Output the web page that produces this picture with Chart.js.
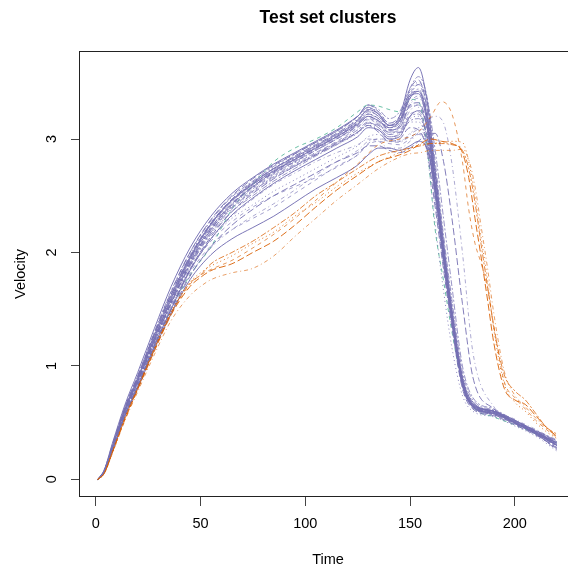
<!DOCTYPE html>
<html lang="en">
<head>
<meta charset="UTF-8">
<title>Test set clusters</title>
<script src="https://cdn.jsdelivr.net/npm/chart.js"></script>
<style>
    html, body {
        margin: 0;
        padding: 0;
        background: #fff;
        overflow: hidden;
    }
    #chart {
        display: block;
    }
</style>
</head>
<body>
<canvas id="chart" width="600" height="570"></canvas>
<script>
// time grids (purple / green curves, orange curves)
const timeMain = [1, 4, 8, 14, 20, 28, 36, 45, 55, 65, 75, 85, 95, 105, 115, 125, 130, 135, 140, 145, 150, 154, 158, 162, 166, 170, 175, 180, 190, 200, 210, 220];
const timeLate = [1, 4, 8, 14, 20, 28, 36, 45, 50, 55, 65, 75, 85, 95, 105, 115, 125, 135, 145, 150, 155, 160, 165, 170, 175, 178, 181, 184, 187, 190, 195, 200, 205, 210, 215, 220];

const xTicks = [0, 50, 100, 150, 200];
const yTicks = [0, 1, 2, 3];

// cluster 1 (purple)
const p01 = [0, 0.07, 0.29, 0.62, 0.88, 1.25, 1.6, 1.95, 2.25, 2.46, 2.61, 2.74, 2.84, 2.94, 3.04, 3.16, 3.26, 3.22, 3.12, 3.2, 3.52, 3.63, 3.35, 2.72, 2.08, 1.5, 0.9, 0.68, 0.6, 0.5, 0.41, 0.3];
const p02 = [0, 0.06, 0.27, 0.6, 0.86, 1.23, 1.57, 1.92, 2.2, 2.42, 2.57, 2.7, 2.8, 2.9, 3.0, 3.12, 3.2, 3.16, 3.08, 3.12, 3.4, 3.48, 3.25, 2.66, 2.0, 1.45, 0.86, 0.66, 0.59, 0.51, 0.43, 0.34];
const p03 = [0, 0.07, 0.3, 0.63, 0.9, 1.28, 1.63, 1.98, 2.26, 2.47, 2.62, 2.75, 2.86, 2.96, 3.06, 3.18, 3.27, 3.24, 3.14, 3.18, 3.42, 3.5, 3.3, 2.75, 2.12, 1.55, 0.92, 0.68, 0.6, 0.49, 0.4, 0.28];
const p04 = [0, 0.06, 0.26, 0.58, 0.84, 1.2, 1.54, 1.88, 2.17, 2.38, 2.53, 2.66, 2.76, 2.86, 2.96, 3.06, 3.14, 3.1, 3.0, 3.05, 3.3, 3.36, 3.18, 2.6, 1.98, 1.42, 0.85, 0.65, 0.58, 0.5, 0.42, 0.33];
const p05 = [0, 0.07, 0.28, 0.61, 0.87, 1.24, 1.58, 1.93, 2.22, 2.43, 2.58, 2.71, 2.82, 2.92, 3.02, 3.14, 3.22, 3.18, 3.08, 3.1, 3.3, 3.32, 3.12, 2.55, 1.95, 1.4, 0.84, 0.64, 0.57, 0.49, 0.4, 0.26];
const p06 = [0, 0.08, 0.31, 0.64, 0.91, 1.3, 1.66, 2.0, 2.28, 2.49, 2.63, 2.76, 2.87, 2.97, 3.07, 3.2, 3.3, 3.26, 3.18, 3.24, 3.45, 3.55, 3.38, 2.8, 2.15, 1.58, 0.95, 0.7, 0.61, 0.52, 0.42, 0.3];
const p07 = [0, 0.06, 0.26, 0.57, 0.82, 1.18, 1.5, 1.84, 2.12, 2.33, 2.48, 2.61, 2.72, 2.82, 2.92, 3.02, 3.1, 3.08, 3.0, 3.02, 3.2, 3.25, 3.12, 2.58, 1.96, 1.42, 0.84, 0.64, 0.58, 0.5, 0.41, 0.32];
const p08 = [0, 0.07, 0.28, 0.6, 0.86, 1.22, 1.56, 1.9, 2.18, 2.4, 2.55, 2.68, 2.78, 2.88, 2.98, 3.1, 3.18, 3.12, 3.04, 3.06, 3.22, 3.24, 3.05, 2.5, 1.9, 1.36, 0.82, 0.64, 0.58, 0.5, 0.4, 0.3];
const p09 = [0, 0.06, 0.27, 0.59, 0.85, 1.21, 1.55, 1.9, 2.2, 2.41, 2.57, 2.69, 2.79, 2.88, 2.97, 3.06, 3.12, 3.1, 3.02, 3.04, 3.15, 3.15, 2.98, 2.45, 1.88, 1.36, 0.82, 0.63, 0.57, 0.49, 0.41, 0.31];
const p10 = [0, 0.07, 0.29, 0.62, 0.88, 1.26, 1.6, 1.94, 2.23, 2.44, 2.59, 2.72, 2.83, 2.93, 3.03, 3.14, 3.22, 3.17, 3.08, 3.12, 3.32, 3.38, 3.2, 2.64, 2.02, 1.46, 0.86, 0.66, 0.6, 0.52, 0.43, 0.35];
const p11 = [0, 0.06, 0.25, 0.56, 0.81, 1.17, 1.5, 1.85, 2.14, 2.36, 2.52, 2.65, 2.76, 2.86, 2.96, 3.06, 3.12, 3.06, 2.98, 3.0, 3.1, 3.08, 2.9, 2.4, 1.85, 1.34, 0.8, 0.62, 0.56, 0.48, 0.39, 0.28];
const p12 = [0, 0.07, 0.28, 0.6, 0.86, 1.22, 1.56, 1.9, 2.2, 2.42, 2.58, 2.7, 2.8, 2.9, 3.0, 3.12, 3.2, 3.14, 3.04, 3.12, 3.38, 3.48, 3.36, 2.9, 2.3, 1.7, 1.0, 0.72, 0.62, 0.52, 0.43, 0.34];
const p13 = [0, 0.06, 0.25, 0.56, 0.8, 1.15, 1.46, 1.76, 1.98, 2.12, 2.22, 2.32, 2.44, 2.56, 2.66, 2.77, 2.86, 2.92, 2.92, 2.9, 2.94, 2.98, 2.92, 2.55, 2.0, 1.46, 0.88, 0.66, 0.6, 0.52, 0.42, 0.32];
const p14 = [0, 0.06, 0.26, 0.57, 0.82, 1.18, 1.5, 1.82, 2.06, 2.2, 2.3, 2.4, 2.52, 2.64, 2.76, 2.86, 2.96, 3.0, 3.0, 2.98, 3.02, 3.05, 2.96, 2.55, 1.98, 1.44, 0.86, 0.65, 0.58, 0.5, 0.41, 0.3];
const p15 = [0, 0.07, 0.27, 0.59, 0.85, 1.2, 1.52, 1.86, 2.12, 2.3, 2.42, 2.54, 2.64, 2.74, 2.84, 2.94, 3.02, 3.04, 3.0, 2.98, 3.05, 3.1, 3.0, 2.56, 1.98, 1.44, 0.86, 0.65, 0.59, 0.5, 0.41, 0.31];
const p16 = [0, 0.06, 0.26, 0.58, 0.83, 1.19, 1.52, 1.85, 2.12, 2.32, 2.47, 2.6, 2.7, 2.8, 2.88, 2.95, 3.0, 2.98, 2.92, 2.92, 2.98, 3.06, 3.16, 3.2, 3.14, 2.78, 2.0, 1.12, 0.64, 0.53, 0.44, 0.34];
const p17 = [0, 0.06, 0.25, 0.56, 0.8, 1.15, 1.47, 1.79, 2.05, 2.24, 2.38, 2.5, 2.6, 2.7, 2.8, 2.88, 2.94, 2.94, 2.9, 2.88, 2.92, 2.98, 3.04, 3.05, 2.8, 2.3, 1.55, 0.9, 0.62, 0.52, 0.43, 0.33];
const p18 = [0, 0.07, 0.29, 0.61, 0.87, 1.24, 1.59, 1.94, 2.24, 2.45, 2.6, 2.73, 2.83, 2.93, 3.03, 3.15, 3.24, 3.2, 3.1, 3.14, 3.36, 3.44, 3.22, 2.68, 2.05, 1.48, 0.88, 0.67, 0.6, 0.51, 0.42, 0.31];
const p19 = [0, 0.08, 0.32, 0.66, 0.94, 1.33, 1.7, 2.04, 2.32, 2.52, 2.66, 2.78, 2.88, 2.98, 3.08, 3.2, 3.28, 3.22, 3.12, 3.16, 3.36, 3.42, 3.2, 2.6, 1.96, 1.4, 0.84, 0.64, 0.58, 0.5, 0.4, 0.3];
const p20 = [0, 0.06, 0.26, 0.58, 0.83, 1.19, 1.52, 1.85, 2.1, 2.27, 2.4, 2.5, 2.58, 2.66, 2.75, 2.86, 2.95, 2.98, 2.96, 2.95, 3.0, 3.04, 2.94, 2.5, 1.94, 1.42, 0.85, 0.65, 0.59, 0.5, 0.41, 0.31];
const p21 = [0, 0.07, 0.29, 0.61, 0.87, 1.24, 1.58, 1.93, 2.22, 2.43, 2.58, 2.71, 2.81, 2.91, 3.01, 3.13, 3.22, 3.18, 3.1, 3.14, 3.3, 3.28, 2.9, 2.25, 1.66, 1.16, 0.74, 0.6, 0.55, 0.47, 0.38, 0.25];
const p22 = [0, 0.07, 0.28, 0.6, 0.86, 1.23, 1.57, 1.91, 2.2, 2.41, 2.56, 2.69, 2.8, 2.9, 3.0, 3.1, 3.17, 3.13, 3.06, 3.08, 3.25, 3.3, 3.1, 2.55, 1.95, 1.4, 0.84, 0.64, 0.58, 0.49, 0.4, 0.29];
const p23 = [0, 0.07, 0.3, 0.64, 0.91, 1.29, 1.65, 2.0, 2.29, 2.5, 2.65, 2.77, 2.87, 2.97, 3.07, 3.2, 3.3, 3.24, 3.14, 3.2, 3.4, 3.42, 3.22, 2.65, 2.02, 1.45, 0.87, 0.66, 0.6, 0.51, 0.42, 0.32];
const p24 = [0, 0.06, 0.27, 0.59, 0.85, 1.21, 1.55, 1.89, 2.18, 2.39, 2.54, 2.67, 2.77, 2.87, 2.97, 3.08, 3.15, 3.1, 3.02, 3.05, 3.2, 3.22, 3.02, 2.48, 1.9, 1.38, 0.83, 0.63, 0.57, 0.49, 0.4, 0.3];
const p25 = [0, 0.07, 0.29, 0.62, 0.89, 1.27, 1.62, 1.96, 2.25, 2.46, 2.6, 2.72, 2.82, 2.92, 3.02, 3.13, 3.2, 3.16, 3.1, 3.16, 3.38, 3.4, 3.16, 2.6, 1.98, 1.42, 0.85, 0.65, 0.59, 0.5, 0.41, 0.3];
const p26 = [0, 0.06, 0.27, 0.59, 0.85, 1.22, 1.56, 1.91, 2.21, 2.43, 2.58, 2.71, 2.81, 2.91, 3.01, 3.11, 3.18, 3.15, 3.07, 3.1, 3.28, 3.3, 3.1, 2.58, 1.97, 1.43, 0.86, 0.66, 0.6, 0.51, 0.42, 0.33];
const p27 = [0, 0.07, 0.28, 0.61, 0.87, 1.24, 1.58, 1.92, 2.2, 2.4, 2.54, 2.66, 2.76, 2.86, 2.95, 3.05, 3.12, 3.08, 3.02, 3.04, 3.18, 3.2, 3.04, 2.52, 1.92, 1.38, 0.83, 0.64, 0.58, 0.5, 0.41, 0.29];
const p28 = [0, 0.06, 0.26, 0.57, 0.82, 1.17, 1.49, 1.8, 2.04, 2.2, 2.32, 2.43, 2.55, 2.68, 2.8, 2.9, 2.98, 3.0, 2.98, 2.97, 3.04, 3.08, 2.98, 2.54, 1.96, 1.43, 0.86, 0.65, 0.58, 0.5, 0.41, 0.31];
const p29 = [0, 0.08, 0.3, 0.63, 0.9, 1.28, 1.63, 1.97, 2.26, 2.47, 2.62, 2.74, 2.85, 2.95, 3.05, 3.17, 3.25, 3.2, 3.12, 3.18, 3.44, 3.52, 3.28, 2.7, 2.06, 1.48, 0.89, 0.67, 0.6, 0.5, 0.4, 0.27];
const p30 = [0, 0.06, 0.27, 0.6, 0.86, 1.22, 1.55, 1.88, 2.16, 2.36, 2.5, 2.63, 2.74, 2.85, 2.95, 3.06, 3.14, 3.12, 3.06, 3.06, 3.16, 3.18, 3.04, 2.56, 1.96, 1.42, 0.85, 0.65, 0.59, 0.51, 0.42, 0.32];

// cluster 2 (orange), on timeLate
const o01 = [0, 0.05, 0.24, 0.54, 0.8, 1.14, 1.46, 1.72, 1.8, 1.85, 1.93, 2.04, 2.16, 2.3, 2.46, 2.62, 2.78, 2.95, 3.0, 3.02, 3.08, 3.2, 3.33, 3.22, 2.8, 2.38, 2.08, 1.9, 1.68, 1.35, 0.86, 0.72, 0.62, 0.52, 0.44, 0.37];
const o02 = [0, 0.05, 0.25, 0.55, 0.81, 1.16, 1.48, 1.74, 1.82, 1.88, 1.97, 2.08, 2.18, 2.32, 2.44, 2.58, 2.7, 2.8, 2.88, 2.92, 2.95, 2.96, 2.97, 2.98, 2.97, 2.8, 2.5, 2.12, 1.76, 1.32, 0.84, 0.68, 0.6, 0.5, 0.42, 0.36];
const o03 = [0, 0.05, 0.23, 0.52, 0.77, 1.1, 1.4, 1.62, 1.7, 1.76, 1.82, 1.86, 1.97, 2.14, 2.3, 2.46, 2.6, 2.74, 2.84, 2.87, 2.88, 2.9, 2.9, 2.9, 2.91, 2.82, 2.58, 2.22, 1.86, 1.46, 0.95, 0.74, 0.64, 0.54, 0.45, 0.38];
const o04 = [0, 0.05, 0.24, 0.53, 0.79, 1.13, 1.45, 1.7, 1.78, 1.84, 1.9, 2.0, 2.1, 2.24, 2.4, 2.55, 2.68, 2.8, 2.86, 2.9, 2.96, 3.0, 2.98, 2.96, 2.88, 2.66, 2.3, 1.95, 1.58, 1.2, 0.8, 0.7, 0.66, 0.56, 0.46, 0.38];
const o05 = [0, 0.05, 0.24, 0.54, 0.8, 1.15, 1.47, 1.73, 1.8, 1.9, 2.0, 2.1, 2.22, 2.35, 2.5, 2.62, 2.74, 2.85, 2.9, 2.92, 2.94, 2.96, 2.96, 2.95, 2.9, 2.74, 2.44, 2.06, 1.7, 1.34, 0.92, 0.78, 0.7, 0.58, 0.46, 0.4];

// cluster 3 (green), on timeMain
const g01 = [0, 0.06, 0.26, 0.57, 0.82, 1.17, 1.5, 1.8, 2.05, 2.38, 2.6, 2.8, 2.92, 3.0, 3.1, 3.24, 3.3, 3.29, 3.26, 3.24, 3.35, 3.33, 2.95, 2.2, 1.75, 1.3, 0.84, 0.64, 0.55, 0.48, 0.4, 0.32];

const clusterPurple = [p01, p02, p03, p04, p05, p06, p07, p08, p09, p10, p11, p12, p13, p14, p15,
    p16, p17, p18, p19, p20, p21, p22, p23, p24, p25, p26, p27, p28, p29, p30];
const clusterOrange = [o01, o02, o03, o04, o05];
const clusterGreen = [g01];

// R line types 1..6
const ltys = [[], [4, 4], [1, 3], [1, 3, 4, 3], [7, 3], [2, 2, 6, 2]];
const alphas = [0.95, 0.65, 0.85, 0.6, 0.9, 0.75];

function makeSet(times, values, rgb, i) {
    return {
        data: values.map((v, k) => ({ x: times[k], y: v })),
        borderColor: `rgba(${rgb}, ${alphas[i % alphas.length]})`,
        borderWidth: 1,
        borderDash: ltys[i % ltys.length],
        pointRadius: 0,
        fill: false,
        cubicInterpolationMode: 'monotone'
    };
}

const datasets = [];
clusterOrange.forEach((c, i) => datasets.push(makeSet(timeLate, c, '217, 95, 2', i + 1)));
clusterPurple.forEach((c, i) => datasets.push(makeSet(timeMain, c, '117, 112, 179', i)));
clusterGreen.forEach((c, i) => datasets.push(makeSet(timeMain, c, '27, 158, 119', 1)));

const FONT = "'Liberation Sans', Arial, sans-serif";

// base-graphics look: box, title, labels
const rDecor = {
    id: 'rDecor',
    afterDraw(chart) {
        const { ctx, chartArea: a, scales } = chart;
        ctx.save();
        ctx.strokeStyle = '#222';
        ctx.lineWidth = 1;
        ctx.strokeRect(a.left - 0.5, a.top + 0.5, a.right - a.left + 1, a.bottom - a.top - 1);

        ctx.fillStyle = '#000';
        ctx.font = 'bold 17.5px ' + FONT;
        ctx.textAlign = 'center';
        ctx.textBaseline = 'alphabetic';
        ctx.fillText('Test set clusters', (a.left + a.right) / 2, 23);

        ctx.font = '14.5px ' + FONT;
        xTicks.forEach(v => ctx.fillText(String(v), scales.x.getPixelForValue(v), 528));
        ctx.fillText('Time', (a.left + a.right) / 2, 564);

        yTicks.forEach(v => {
            ctx.save();
            ctx.translate(56, scales.y.getPixelForValue(v));
            ctx.rotate(-Math.PI / 2);
            ctx.fillText(String(v), 0, 0);
            ctx.restore();
        });
        ctx.save();
        ctx.translate(25, (a.top + a.bottom) / 2);
        ctx.rotate(-Math.PI / 2);
        ctx.fillText('Velocity', 0, 0);
        ctx.restore();
        ctx.restore();
    }
};

new Chart(document.getElementById('chart'), {
    type: 'line',
    data: { datasets },
    plugins: [rDecor],
    options: {
        responsive: false,
        animation: false,
        devicePixelRatio: 1,
        layout: { padding: { top: 51, right: 24, left: 0, bottom: 0 } },
        plugins: { legend: { display: false }, tooltip: { enabled: false }, title: { display: false } },
        scales: {
            x: {
                type: 'linear',
                min: -7.5,
                max: 229.2,
                afterBuildTicks: s => { s.ticks = xTicks.map(v => ({ value: v })); },
                afterFit: s => { s.height = 73; },
                grid: { drawOnChartArea: false, drawTicks: true, tickLength: 9, color: '#444' },
                border: { display: false },
                ticks: { color: 'rgba(0,0,0,0)' }
            },
            y: {
                type: 'linear',
                min: -0.156,
                max: 3.776,
                afterBuildTicks: s => { s.ticks = yTicks.map(v => ({ value: v })); },
                afterFit: s => { s.width = 80; },
                grid: { drawOnChartArea: false, drawTicks: true, tickLength: 9, color: '#444' },
                border: { display: false },
                ticks: { color: 'rgba(0,0,0,0)' }
            }
        }
    }
});
</script>
</body>
</html>
